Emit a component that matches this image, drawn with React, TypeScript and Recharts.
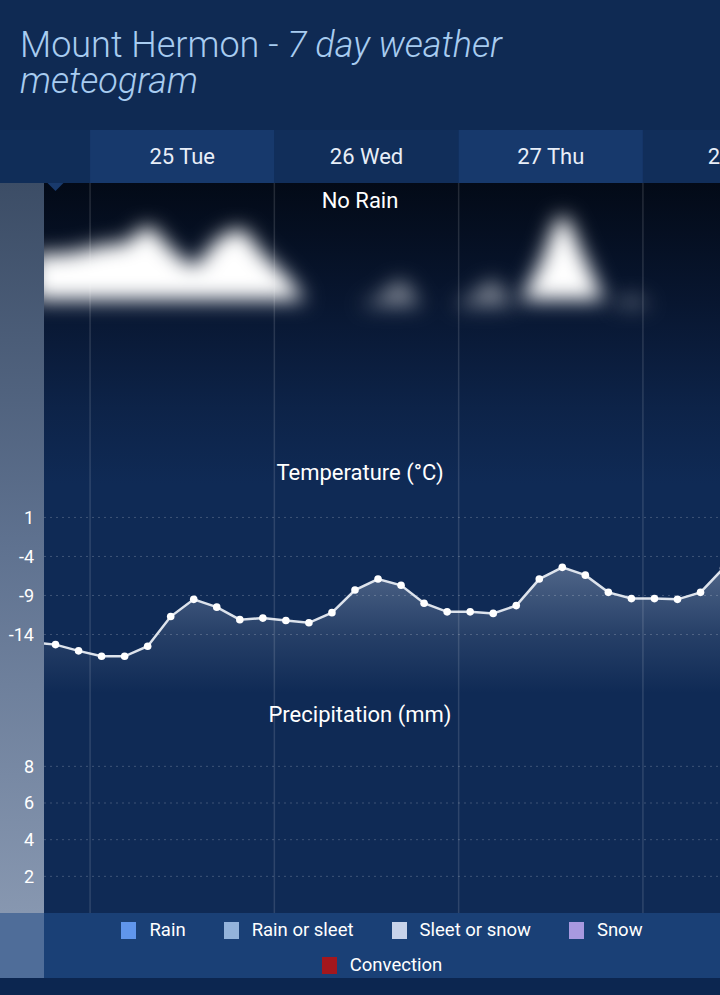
import React from "react";
import {
  ComposedChart,
  Area,
  Bar,
  Line,
  XAxis,
  YAxis,
  ReferenceLine,
  ReferenceArea,
  ReferenceDot,
} from "recharts";

// hours since 25 Tue 00:00 (3-hourly points)
const HOURS = [
  -7.5, -4.5, -1.5, 1.5, 4.5, 7.5, 10.5, 13.5, 16.5, 19.5, 22.5, 25.5, 28.5, 31.5, 34.5, 37.5,
  40.5, 43.5, 46.5, 49.5, 52.5, 55.5, 58.5, 61.5, 64.5, 67.5, 70.5, 73.5, 76.5, 79.5, 82.5,
];
const TEMPS = [
  -15.0, -15.3, -16.1, -16.8, -16.8, -15.5, -11.7, -9.5, -10.5, -12.1, -11.9, -12.2, -12.5, -11.2,
  -8.3, -6.9, -7.7, -10.0, -11.1, -11.1, -11.3, -10.3, -6.9, -5.4, -6.4, -8.6, -9.4, -9.4, -9.5,
  -8.6, -5.5,
];
// cloud layer tops (relative height, base at CLOUD_BASE)
const CLOUD_TOPS = [
  74, 74, 75, 77, 78, 84, 76, 70, 79, 83, 74, 66, 57, 57, 57, 57, 57, 57, 57, 57, 57, 57, 70,
  88, 72, 57, 57, 57, 57, 57, 57,
];
const THIN_CLOUD_TOPS = [
  55, 55, 55, 55, 55, 55, 55, 55, 55, 55, 55, 55, 55, 55, 55, 58, 64, 55, 55, 58, 64, 55, 55,
  55, 55, 55, 58, 55, 55, 55, 55,
];
const PRECIP = [
  0, 0, 0, 0, 0, 0, 0, 0, 0, 0, 0, 0, 0, 0, 0, 0, 0, 0, 0, 0, 0, 0, 0, 0, 0, 0, 0, 0, 0, 0, 0,
];
const CLOUD_BASE = 57;
const THIN_BASE = 55;

const DAY_LABELS = ["25 Tue", "26 Wed", "27 Thu", "28 Fri"];
const DAY_STARTS = [0, 24, 48, 72];
const MIDNIGHTS = [0, 24, 48, 72, 96];
const TEMP_TICKS = [1, -4, -9, -14];
const PRECIP_TICKS = [2, 4, 6, 8];

const LEGEND = [
  { name: "Rain", color: "#6096ec" },
  { name: "Rain or sleet", color: "#93b3db" },
  { name: "Sleet or snow", color: "#c8d3ea" },
  { name: "Snow", color: "#a899e0" },
  { name: "Convection", color: "#a3171d" },
];

const rows = HOURS.map((hour, i) => ({
  hour,
  temp: TEMPS[i],
  cloud: CLOUD_TOPS[i],
  thin: THIN_CLOUD_TOPS[i],
  precip: PRECIP[i],
}));

const days = DAY_LABELS.map((label, i) => ({ label, start: DAY_STARTS[i], end: DAY_STARTS[i] + 24 }));

const W = 904;
const X_DOMAIN: [number, number] = [-6, 106];
const FONT = "Roboto, 'Noto Sans', sans-serif";
const GRID = "rgba(255,255,255,0.2)";
const DAY_LINE = "rgba(255,255,255,0.13)";

const dayLines = MIDNIGHTS.map((h) => (
  <ReferenceLine key={`m${h}`} x={h} stroke={DAY_LINE} strokeWidth={1.5} />
));

const gridLines = (ticks: number[]) =>
  ticks.map((t) => (
    <ReferenceLine key={`g${t}`} y={t} stroke={GRID} strokeDasharray="2 4" />
  ));

const NowMarker = (props: any) => {
  const { cx, cy } = props;
  return <polygon points={`${cx - 8},${cy} ${cx + 8},${cy} ${cx},${cy + 8}`} fill="#193a6c" />;
};

const overlayText = (text: string, top: number) => (
  <div
    style={{
      position: "absolute",
      top,
      left: 0,
      width: 720,
      textAlign: "center",
      color: "#ffffff",
      fontSize: 22,
      lineHeight: "24px",
    }}
  >
    {text}
  </div>
);

const titleLine = { fontSize: 36, fontWeight: 300, lineHeight: "36px", color: "#a8ccf0", whiteSpace: "nowrap" } as const;

export default function App() {
  return (
    <div
      style={{
        position: "absolute",
        left: 0,
        top: 0,
        width: 720,
        height: 995,
        overflow: "hidden",
        background: "#0f2a55",
        fontFamily: FONT,
      }}
    >
      {/* title */}
      <div style={{ position: "absolute", left: 0, top: 0, width: 720, height: 130, background: "#0f2a53" }} />
      <div style={{ position: "absolute", left: 20, top: 27 }}>
        <div style={titleLine}>
          Mount Hermon - <i>7 day weather</i>
        </div>
        <div style={titleLine}>
          <i>meteogram</i>
        </div>
      </div>

      {/* header row */}
      <div style={{ position: "absolute", left: 0, top: 130, width: 720, height: 53, background: "#102d58" }} />
      <div style={{ position: "absolute", left: 0, top: 130 }}>
        <ComposedChart width={W} height={53} data={days} margin={{ top: 0, right: 0, bottom: 0, left: 44 }}>
          <XAxis type="number" dataKey="start" domain={X_DOMAIN} allowDataOverflow hide />
          <YAxis hide domain={[0, 1]} />
          {days.map((d, i) => (
            <ReferenceArea
              key={d.label}
              x1={d.start}
              x2={d.end}
              y1={0}
              y2={1}
              fill={i % 2 === 0 ? "#17396c" : "#112e5a"}
              fillOpacity={1}
              stroke="none"
              ifOverflow="visible"
              label={{ value: d.label, position: "center", fill: "#e8eef8", fontSize: 22 }}
            />
          ))}
          <Line dataKey={() => 0} stroke="none" dot={false} activeDot={false} isAnimationActive={false} />
        </ComposedChart>
      </div>

      {/* panel backgrounds */}
      <div
        style={{
          position: "absolute",
          left: 0,
          top: 183,
          width: 720,
          height: 300,
          background: "linear-gradient(to bottom, #030a17 0%, #081630 40%, #0d2348 75%, #0f2a55 100%)",
        }}
      />
      <div
        style={{
          position: "absolute",
          left: 0,
          top: 183,
          width: 44,
          height: 730,
          background: "linear-gradient(to bottom, #3c4d66 0%, #5f7290 50%, #8797b0 100%)",
        }}
      />

      {/* clouds */}
      <div style={{ position: "absolute", left: 0, top: 183 }}>
        <ComposedChart width={W} height={272} data={rows} margin={{ top: 0, right: 0, bottom: 0, left: 44 }}>
          <defs>
            <filter id="cloudBlur" filterUnits="userSpaceOnUse" x={0} y={0} width={W} height={272}>
              <feGaussianBlur stdDeviation={10} />
            </filter>
          </defs>
          <XAxis type="number" dataKey="hour" domain={X_DOMAIN} allowDataOverflow hide />
          <YAxis hide domain={[0, 100]} />
          {dayLines}
          <Area
            type="monotone"
            dataKey={(d: any) => [THIN_BASE, d.thin]}
            fill="#ffffff"
            fillOpacity={0.5}
            stroke="none"
            filter="url(#cloudBlur)"
            isAnimationActive={false}
          />
          <Area
            type="monotone"
            dataKey={(d: any) => [CLOUD_BASE, d.cloud]}
            fill="#ffffff"
            fillOpacity={1}
            stroke="none"
            filter="url(#cloudBlur)"
            isAnimationActive={false}
          />
          <ReferenceDot x={-4.5} y={100} r={8} shape={NowMarker} ifOverflow="visible" />
        </ComposedChart>
      </div>

      {/* temperature */}
      <div style={{ position: "absolute", left: 0, top: 455 }}>
        <ComposedChart width={W} height={238} data={rows} margin={{ top: 0, right: 0, bottom: 0, left: 0 }}>
          <defs>
            <linearGradient id="tempFill" x1="0" y1="0" x2="0" y2="1">
              <stop offset="0%" stopColor="#c9d6ea" stopOpacity={0.34} />
              <stop offset="55%" stopColor="#c9d6ea" stopOpacity={0.12} />
              <stop offset="100%" stopColor="#c9d6ea" stopOpacity={0} />
            </linearGradient>
          </defs>
          <XAxis type="number" dataKey="hour" domain={X_DOMAIN} allowDataOverflow hide />
          <YAxis
            domain={[-21.5, 9]}
            ticks={TEMP_TICKS}
            interval={0}
            width={44}
            axisLine={false}
            tickLine={false}
            tickMargin={4}
            tick={{ fill: "#ffffff", fontSize: 18 }}
          />
          {gridLines(TEMP_TICKS)}
          {dayLines}
          <Area
            type="linear"
            dataKey="temp"
            baseValue="dataMin"
            stroke="#dde3ec"
            strokeWidth={2.5}
            fill="url(#tempFill)"
            fillOpacity={1}
            dot={{ r: 3.8, fill: "#ffffff", stroke: "none" }}
            activeDot={false}
            isAnimationActive={false}
          />
        </ComposedChart>
      </div>

      {/* precipitation */}
      <div style={{ position: "absolute", left: 0, top: 693 }}>
        <ComposedChart width={W} height={220} data={rows} margin={{ top: 0, right: 0, bottom: 0, left: 0 }}>
          <XAxis type="number" dataKey="hour" domain={X_DOMAIN} allowDataOverflow hide />
          <YAxis
            domain={[0, 12]}
            ticks={PRECIP_TICKS}
            interval={0}
            width={44}
            axisLine={false}
            tickLine={false}
            tickMargin={4}
            tick={{ fill: "#ffffff", fontSize: 18 }}
          />
          {gridLines(PRECIP_TICKS)}
          {dayLines}
          <Bar dataKey="precip" fill="#6096ec" barSize={18} isAnimationActive={false} />
        </ComposedChart>
      </div>

      {overlayText("No Rain", 189)}
      {overlayText("Temperature (°C)", 461)}
      {overlayText("Precipitation (mm)", 703)}

      {/* legend */}
      <div style={{ position: "absolute", left: 0, top: 913, width: 720, height: 65, background: "#1a4076" }} />
      <div style={{ position: "absolute", left: 0, top: 913, width: 44, height: 65, background: "#4f6d99" }} />
      <div
        style={{
          position: "absolute",
          left: 44,
          top: 913,
          width: 676,
          boxSizing: "border-box",
          padding: "5px 20px 0",
          display: "flex",
          flexWrap: "wrap",
          justifyContent: "center",
          columnGap: 38,
          rowGap: 11,
          color: "#ffffff",
          fontSize: 18.5,
          lineHeight: "24px",
        }}
      >
        {LEGEND.map((item) => (
          <div key={item.name} style={{ display: "flex", alignItems: "center" }}>
            <span style={{ display: "inline-block", width: 15, height: 17, background: item.color, marginRight: 13 }} />
            {item.name}
          </div>
        ))}
      </div>
      <div style={{ position: "absolute", left: 0, top: 978, width: 720, height: 17, background: "#0c2650" }} />
    </div>
  );
}
